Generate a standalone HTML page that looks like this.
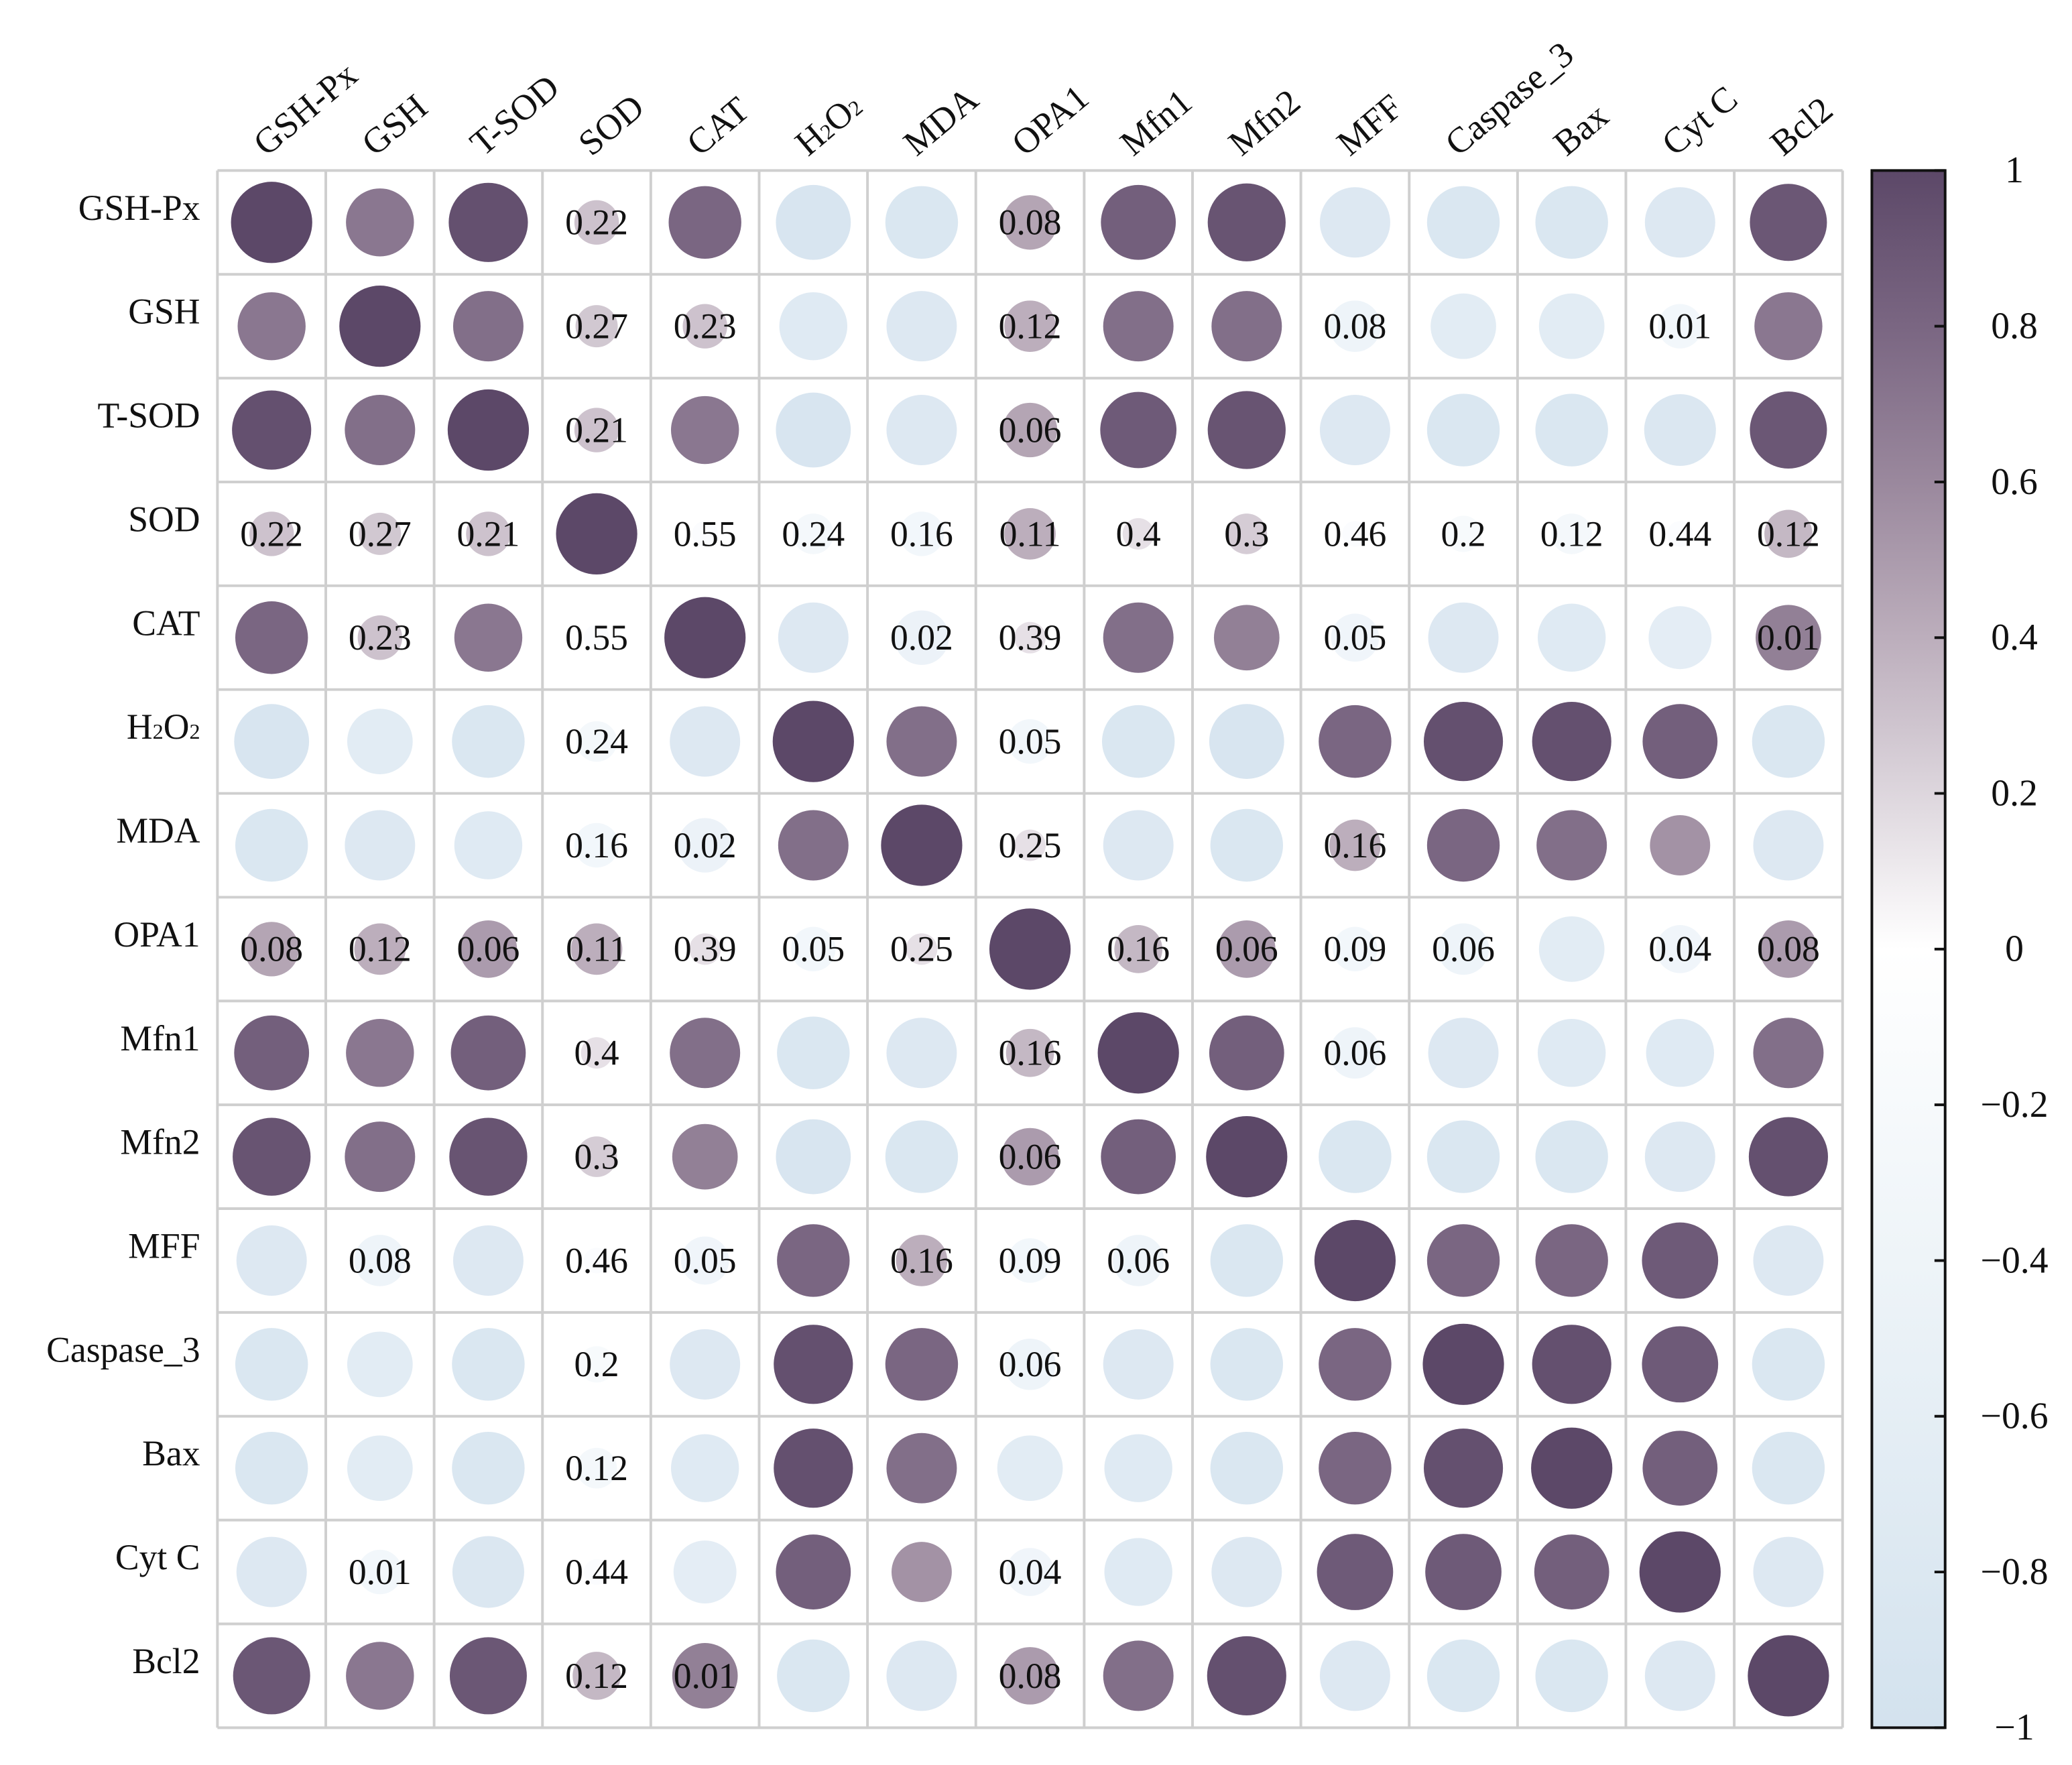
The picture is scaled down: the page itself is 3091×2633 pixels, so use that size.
<!DOCTYPE html>
<html><head><meta charset="utf-8"><style>
html,body{margin:0;padding:0;background:#fff}
svg{display:block}
text{font-family:"Liberation Serif",serif;fill:#111}
</style></head><body>
<svg id="chart" width="3091" height="2633" viewBox="0 0 1555 1325" xmlns="http://www.w3.org/2000/svg">
<defs>
<linearGradient id="cbg" x1="0" y1="0" x2="0" y2="1">
<stop offset="0" stop-color="#5c4868"/>
<stop offset="0.1" stop-color="#7a6682"/>
<stop offset="0.2" stop-color="#9a889d"/>
<stop offset="0.3" stop-color="#bcaebc"/>
<stop offset="0.4" stop-color="#ddd6dd"/>
<stop offset="0.5" stop-color="#ffffff"/>
<stop offset="0.7" stop-color="#eef4f8"/>
<stop offset="1" stop-color="#d3e2ee"/>
</linearGradient>
</defs>
<g id="grid"></g>
<g id="marks"></g>
<g id="labels"></g>
<g id="cbar"></g>
</svg>
<script>
const variables = ["GSH-Px","GSH","T-SOD","SOD","CAT","H2O2","MDA","OPA1","Mfn1","Mfn2","MFF","Caspase_3","Bax","Cyt C","Bcl2"];
const corrValues = [
[1,0.7,0.95,0.3,0.8,-0.85,-0.8,0.45,0.85,0.92,-0.75,-0.8,-0.8,-0.75,0.9],
[0.7,1,0.75,0.27,0.3,-0.7,-0.75,0.4,0.75,0.75,-0.4,-0.65,-0.65,-0.3,0.7],
[0.95,0.75,1,0.3,0.7,-0.85,-0.75,0.45,0.88,0.92,-0.75,-0.8,-0.8,-0.78,0.9],
[0.3,0.27,0.3,1,-0.1,-0.25,-0.3,0.4,0.15,0.25,-0.1,-0.2,-0.25,-0.1,0.35],
[0.8,0.3,0.7,-0.1,1,-0.75,-0.45,0.15,0.75,0.65,-0.35,-0.75,-0.7,-0.6,0.65],
[-0.85,-0.65,-0.8,-0.25,-0.75,1,0.75,-0.3,-0.8,-0.85,0.8,0.95,0.95,0.85,-0.8],
[-0.8,-0.75,-0.7,-0.3,-0.45,0.75,1,0.15,-0.75,-0.8,0.4,0.8,0.75,0.55,-0.75],
[0.45,0.4,0.5,0.4,0.15,-0.3,0.15,1,0.35,0.5,-0.3,-0.4,-0.65,-0.35,0.5],
[0.85,0.7,0.85,0.15,0.75,-0.8,-0.75,0.35,1,0.85,-0.4,-0.75,-0.7,-0.7,0.75],
[0.92,0.75,0.92,0.25,0.65,-0.85,-0.8,0.5,0.85,1,-0.8,-0.8,-0.8,-0.75,0.95],
[-0.75,-0.4,-0.75,-0.1,-0.35,0.8,0.4,-0.3,-0.4,-0.8,1,0.8,0.8,0.88,-0.75],
[-0.8,-0.65,-0.8,-0.2,-0.75,0.95,0.8,-0.4,-0.75,-0.8,0.8,1,0.95,0.88,-0.8],
[-0.8,-0.65,-0.8,-0.25,-0.7,0.95,0.75,-0.65,-0.7,-0.8,0.8,0.95,1,0.85,-0.8],
[-0.75,-0.3,-0.78,-0.1,-0.6,0.85,0.55,-0.35,-0.7,-0.75,0.88,0.88,0.85,1,-0.75],
[0.9,0.7,0.9,0.35,0.65,-0.8,-0.75,0.5,0.75,0.95,-0.75,-0.8,-0.8,-0.75,1]
];
const pLabelPairs = [[0,3,"0.22"],[0,7,"0.08"],[1,3,"0.27"],[1,4,"0.23"],[1,7,"0.12"],[1,10,"0.08"],[1,13,"0.01"],[2,3,"0.21"],[2,7,"0.06"],[3,4,"0.55"],[3,5,"0.24"],[3,6,"0.16"],[3,7,"0.11"],[3,8,"0.4"],[3,9,"0.3"],[3,10,"0.46"],[3,11,"0.2"],[3,12,"0.12"],[3,13,"0.44"],[3,14,"0.12"],[4,6,"0.02"],[4,7,"0.39"],[4,10,"0.05"],[4,14,"0.01"],[5,7,"0.05"],[6,7,"0.25"],[6,10,"0.16"],[7,8,"0.16"],[7,9,"0.06"],[7,10,"0.09"],[7,11,"0.06"],[7,13,"0.04"],[7,14,"0.08"],[8,10,"0.06"]];
const cbTicks = [1,0.8,0.6,0.4,0.2,0,-0.2,-0.4,-0.6,-0.8,-1];

const NS="http://www.w3.org/2000/svg";
const X0=163,X1=1383,Y0=128,Y1=1297,n=variables.length;
const cw=(X1-X0)/n, ch=(Y1-Y0)/n;
const xc=j=>X0+cw*(j+0.5), yc=i=>Y0+ch*(i+0.5);
const cbY=v=>Y0+(1-v)/2*(Y1-Y0);
const stops=[[-1,[208,224,237]],[-0.4,[238,244,249]],[0,[255,255,255]],[0.2,[221,214,221]],[0.4,[188,174,188]],[0.6,[154,136,157]],[0.8,[122,102,130]],[1,[92,72,104]]];
function color(v){for(let k=0;k<stops.length-1;k++){const[a,ca]=stops[k],[b,cb]=stops[k+1];if(v<=b){const t=(v-a)/(b-a);return `rgb(${ca.map((c,m)=>Math.round(c+(cb[m]-c)*t)).join(",")})`;}}return "rgb(92,72,104)";}
function mk(tag,attrs,parent){const e=document.createElementNS(NS,tag);for(const k in attrs)e.setAttribute(k,attrs[k]);parent.appendChild(e);return e;}
function setLabel(t,v){
  if(v==="H2O2"){t.appendChild(document.createTextNode("H"));const a=mk("tspan",{"font-size":"60%"},t);a.textContent="2";
    t.appendChild(document.createTextNode("O"));const b=mk("tspan",{"font-size":"60%"},t);b.textContent="2";}
  else t.textContent=v;
}

const grid=document.getElementById("grid"),marks=document.getElementById("marks"),labels=document.getElementById("labels"),cbar=document.getElementById("cbar");
for(let i=0;i<=n;i++){
  mk("line",{x1:X0+cw*i,y1:Y0,x2:X0+cw*i,y2:Y1,stroke:"#cfcfcf","stroke-width":2},grid);
  mk("line",{x1:X0,y1:Y0+ch*i,x2:X1,y2:Y0+ch*i,stroke:"#cfcfcf","stroke-width":2},grid);
}
const lab={};
pLabelPairs.forEach(([a,b,s])=>{lab[a+","+b]=s;lab[b+","+a]=s;});
for(let i=0;i<n;i++)for(let j=0;j<n;j++){
  const v=corrValues[i][j];
  const c=mk("circle",{cx:xc(j),cy:yc(i),r:Math.sqrt(Math.abs(v))*30.5,fill:color(v)},marks);
  
  
  const s=lab[i+","+j];
  if(s){const t=mk("text",{x:xc(j),y:yc(i)+9,"text-anchor":"middle","font-size":27},marks);t.textContent=s;
    
    }
}
variables.forEach((v,i)=>{
  const t=mk("text",{x:150,y:yc(i)-2,"text-anchor":"end","font-size":27},labels);
  setLabel(t,v);
  
  
  const u=mk("text",{x:0,y:0,"font-size":27,transform:`translate(${xc(i)-4},${118}) rotate(-40)`},labels);
  setLabel(u,v);
  
  
});
const r=mk("rect",{x:1405,y:Y0,width:55,height:Y1-Y0,fill:"url(#cbg)",stroke:"#111","stroke-width":2},cbar);


cbTicks.forEach(v=>{
  const y=cbY(v);
  mk("line",{x1:1452,y1:y,x2:1460,y2:y,stroke:"#111","stroke-width":2},cbar);
  const t=mk("text",{x:1512,y:y+9,"text-anchor":"middle","font-size":28},cbar);
  t.textContent=(v<0?"\u2212"+Math.abs(v):String(v));
  
  
});
</script>
</body></html>
